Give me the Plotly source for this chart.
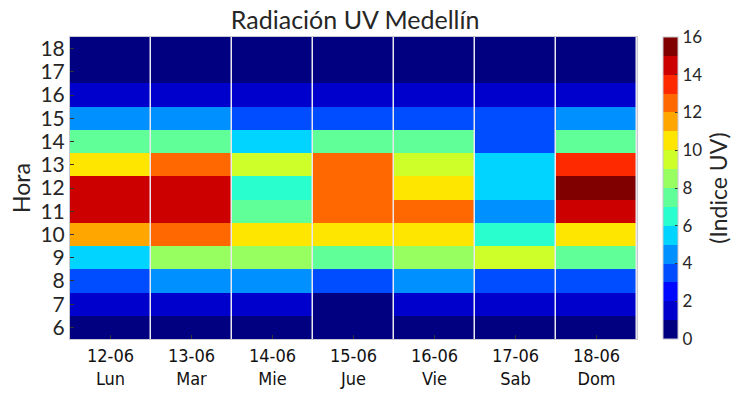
import plotly.graph_objects as go

days = ["12-06<br>Lun", "13-06<br>Mar", "14-06<br>Mie", "15-06<br>Jue", "16-06<br>Vie", "17-06<br>Sab", "18-06<br>Dom"]
hours = [6, 7, 8, 9, 10, 11, 12, 13, 14, 15, 16, 17, 18]

# UV index per day (values per hour 6..18)
uv_lun = [0.5, 1.5, 3.5, 5.5, 11.5, 14.5, 14.5, 10.5, 7.5, 4.5, 1.5, 0.5, 0.5]
uv_mar = [0.5, 1.5, 4.5, 8.5, 12.5, 14.5, 14.5, 12.5, 7.5, 4.5, 1.5, 0.5, 0.5]
uv_mie = [0.5, 1.5, 4.5, 8.5, 10.5, 7.5, 6.5, 9.5, 5.5, 3.5, 1.5, 0.5, 0.5]
uv_jue = [0.5, 0.5, 3.5, 7.5, 10.5, 12.5, 12.5, 12.5, 7.5, 3.5, 1.5, 0.5, 0.5]
uv_vie = [0.5, 1.5, 4.5, 8.5, 10.5, 12.5, 10.5, 9.5, 7.5, 3.5, 1.5, 0.5, 0.5]
uv_sab = [0.5, 1.5, 3.5, 9.5, 6.5, 4.5, 5.5, 5.5, 3.5, 3.5, 1.5, 0.5, 0.5]
uv_dom = [0.5, 1.5, 3.5, 7.5, 10.5, 14.5, 15.5, 13.5, 7.5, 4.5, 1.5, 0.5, 0.5]

cols = [uv_lun, uv_mar, uv_mie, uv_jue, uv_vie, uv_sab, uv_dom]
z = [[cols[d][h] for d in range(len(cols))] for h in range(len(hours))]

jet16 = [(0,0,128),(0,0,205),(0,8,255),(0,76,255),(0,144,255),(0,212,255),
         (41,255,206),(96,255,151),(151,255,96),(206,255,41),(255,230,0),
         (255,167,0),(255,104,0),(255,41,0),(205,0,0),(128,0,0)]
cs = []
n = len(jet16)
for i, c in enumerate(jet16):
    col = "rgb(%d,%d,%d)" % c
    cs.append([i / n, col])
    cs.append([(i + 1) / n, col])

font_main = "Lato, sans-serif"
font_cond = "DejaVu Sans Condensed, DejaVu Sans, sans-serif"
fig = go.Figure(go.Heatmap(
    z=z, x=list(range(len(days))), y=hours,
    colorscale=cs, zmin=0, zmax=16, xgap=1.5,
    colorbar=dict(
        x=1.046, xanchor="left", y=0.5, yanchor="middle", len=1.0, lenmode="fraction",
        ypad=0, xpad=0,
        thickness=15, outlinecolor="#c8c8d0", outlinewidth=1,
        tickvals=list(range(0, 17, 2)), ticks="inside", ticklen=3, tickcolor="#333",
        tickfont=dict(size=17, color="#262626", family=font_main),
        title=dict(text="(Indice UV)", side="right", font=dict(size=23, color="#262626", family=font_main)),
    ),
))

fig.update_layout(
    width=743, height=395,
    margin=dict(l=70, r=106, t=37, b=56, autoexpand=False),
    paper_bgcolor="white", plot_bgcolor="#e8e8ee",
    title=dict(text="Radiación UV Medellín", x=0.478, xanchor="center", y=0.972, yanchor="top",
               font=dict(size=25, color="#262626", family=font_main)),
)
fig.update_xaxes(
    tickvals=list(range(len(days))), ticktext=days, range=[-0.5, 6.5],
    ticks="inside", ticklen=4, tickcolor="#333", automargin=False,
    tickfont=dict(size=18, color="#111", family=font_cond),
    showline=True, linecolor="#c8c8d0", mirror=True, showgrid=False, zeroline=False,
)
fig.update_yaxes(
    tickvals=hours, range=[5.5, 18.5],
    ticks="inside", ticklen=4, tickcolor="#333", automargin=False,
    tickfont=dict(size=21, color="#262626", family=font_main),
    title=dict(text="Hora", font=dict(size=23, color="#262626", family=font_main), standoff=3),
    showline=True, linecolor="#c8c8d0", mirror=True, showgrid=False, zeroline=False,
)

fig.write_html("out.html", config={"displayModeBar": False},
               post_script="document.body.style.margin='0';document.body.style.overflow='hidden';")
